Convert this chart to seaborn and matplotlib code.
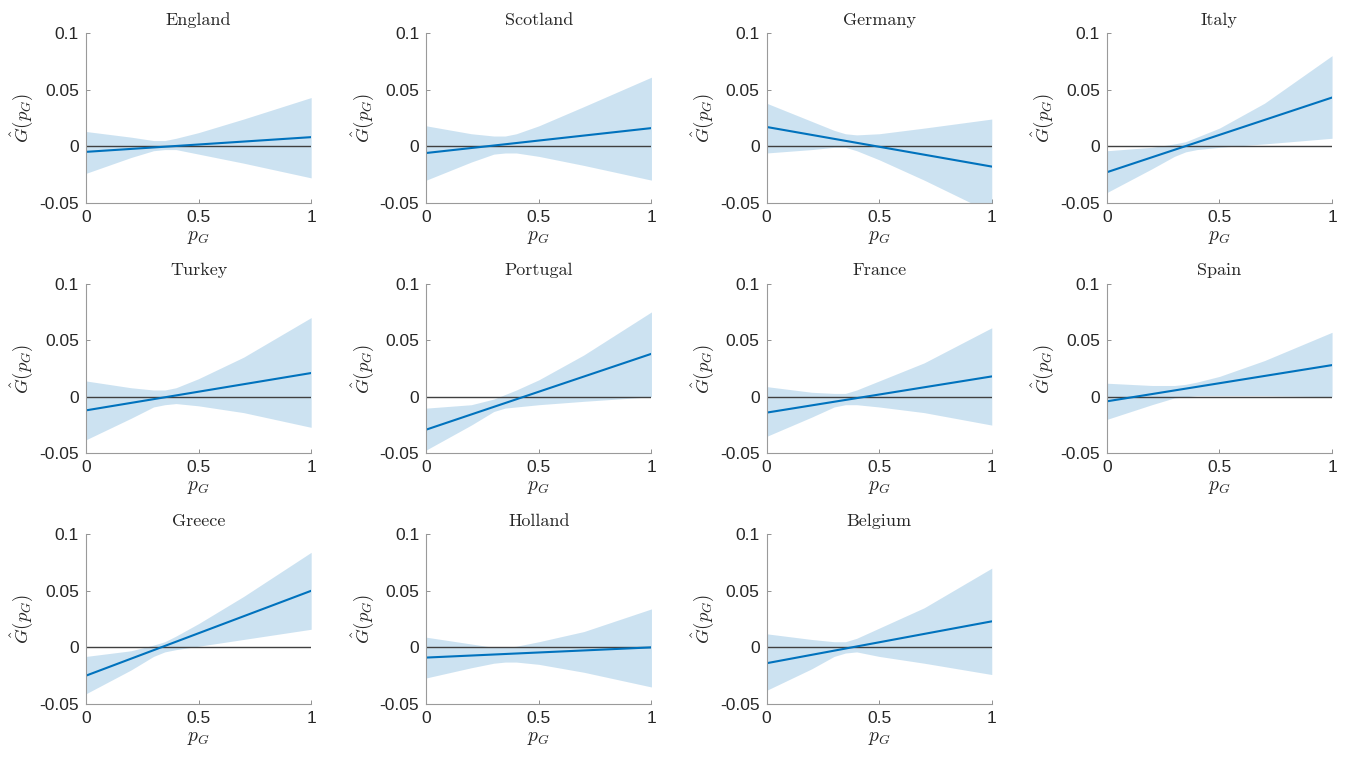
import matplotlib
matplotlib.use("Agg")
import matplotlib.pyplot as plt
import seaborn as sns
import pandas as pd

countries = ['England', 'Scotland', 'Germany', 'Italy',
             'Turkey', 'Portugal', 'France', 'Spain',
             'Greece', 'Holland', 'Belgium']

# fitted line: value at p_G = 0 and p_G = 1
g_at_0 = [-0.005, -0.006, 0.017, -0.023, -0.012, -0.029, -0.014, -0.004, -0.025, -0.009, -0.014]
g_at_1 = [0.008, 0.016, -0.018, 0.043, 0.021, 0.038, 0.018, 0.028, 0.050, 0.000, 0.023]

# confidence band, read at these p_G values
band_x = [0, 0.2, 0.3, 0.35, 0.4, 0.5, 0.7, 1]
band_upper = [
    [0.013, 0.008, 0.005, 0.005, 0.007, 0.012, 0.024, 0.043],
    [0.018, 0.011, 0.009, 0.009, 0.011, 0.018, 0.035, 0.061],
    [0.038, 0.022, 0.014, 0.011, 0.010, 0.011, 0.016, 0.024],
    [-0.004, -0.001, 0.002, 0.004, 0.008, 0.016, 0.038, 0.080],
    [0.014, 0.008, 0.006, 0.006, 0.008, 0.016, 0.035, 0.070],
    [-0.010, -0.007, -0.002, 0.002, 0.006, 0.015, 0.037, 0.075],
    [0.009, 0.004, 0.003, 0.003, 0.006, 0.014, 0.030, 0.061],
    [0.012, 0.010, 0.010, 0.011, 0.013, 0.018, 0.032, 0.057],
    [-0.008, -0.003, 0.002, 0.005, 0.010, 0.021, 0.045, 0.084],
    [0.009, 0.003, 0.000, 0.000, 0.001, 0.005, 0.014, 0.034],
    [0.012, 0.007, 0.005, 0.005, 0.008, 0.017, 0.035, 0.070],
]
band_lower = [
    [-0.024, -0.010, -0.004, -0.003, -0.003, -0.007, -0.015, -0.028],
    [-0.030, -0.014, -0.007, -0.006, -0.006, -0.009, -0.017, -0.030],
    [-0.006, -0.003, -0.001, -0.001, -0.004, -0.012, -0.030, -0.059],
    [-0.041, -0.020, -0.009, -0.005, -0.003, -0.001, 0.002, 0.007],
    [-0.038, -0.019, -0.009, -0.007, -0.006, -0.008, -0.014, -0.027],
    [-0.047, -0.025, -0.013, -0.010, -0.009, -0.007, -0.004, 0.000],
    [-0.035, -0.018, -0.009, -0.007, -0.007, -0.009, -0.014, -0.025],
    [-0.020, -0.007, -0.001, 0.000, 0.001, 0.001, 0.001, 0.000],
    [-0.041, -0.020, -0.008, -0.004, -0.002, 0.001, 0.007, 0.016],
    [-0.027, -0.018, -0.014, -0.013, -0.013, -0.015, -0.022, -0.035],
    [-0.038, -0.019, -0.008, -0.005, -0.004, -0.008, -0.014, -0.024],
]

sns.set_style('white')
plt.rcParams['font.family'] = ['Liberation Sans', 'DejaVu Sans']
plt.rcParams['mathtext.fontset'] = 'cm'

blue = '#0072BD'
fig, axes = plt.subplots(3, 4, figsize=(13.58, 7.59), dpi=100)
fig.subplots_adjust(left=0.0633, right=0.9809, top=0.9565, bottom=0.0725,
                    wspace=0.511, hspace=0.476)

for i, ax in enumerate(axes.flat):
    if i >= len(countries):
        ax.axis('off')
        continue
    line = pd.DataFrame({'p': [0, 1], 'G': [g_at_0[i], g_at_1[i]]})
    ax.fill_between(band_x, band_lower[i], band_upper[i], color=blue, alpha=0.2, lw=0)
    ax.axhline(0, color='#404040', lw=1.0)
    sns.lineplot(data=line, x='p', y='G', ax=ax, color=blue, lw=1.5)
    ax.set_xlim(0, 1)
    ax.set_ylim(-0.05, 0.1)
    ax.set_xticks([0, 0.5, 1])
    ax.set_xticklabels(['0', '0.5', '1'])
    ax.set_yticks([-0.05, 0, 0.05, 0.1])
    ax.set_yticklabels(['-0.05', '0', '0.05', '0.1'])
    ax.tick_params(direction='in', length=3, width=0.6, color='#808080',
                   labelsize=12.5, labelcolor='#262626', pad=5,
                   bottom=True, left=True)
    for side in ['top', 'right']:
        ax.spines[side].set_visible(False)
    for side in ['left', 'bottom']:
        ax.spines[side].set_color('#9a9a9a')
        ax.spines[side].set_linewidth(0.8)
    ax.set_title(countries[i], fontsize=13, family='cmr10', pad=6)
    ax.set_xlabel(r'$p_G$', fontsize=14, labelpad=3)
    ax.set_ylabel(r'$\hat{G}(p_G)$', fontsize=13.5, labelpad=3)

fig.savefig('out.png', dpi=100)
